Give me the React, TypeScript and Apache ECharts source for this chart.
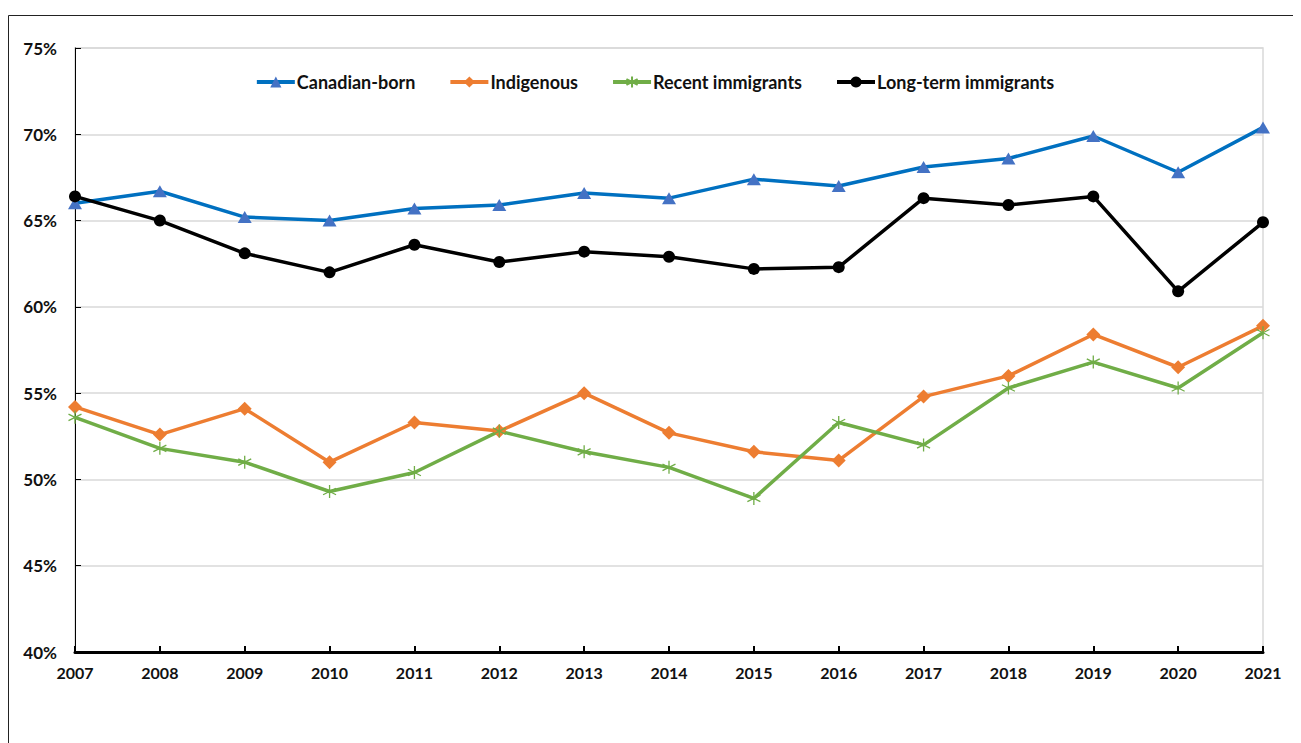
import React, { useEffect, useRef } from "react";
import * as echarts from "echarts";

const years = ["2007","2008","2009","2010","2011","2012","2013","2014","2015","2016","2017","2018","2019","2020","2021"];
const canadianBorn = [66.0,66.7,65.2,65.0,65.7,65.9,66.6,66.3,67.4,67.0,68.1,68.6,69.9,67.8,70.4];
const indigenous = [54.2,52.6,54.1,51.0,53.3,52.8,55.0,52.7,51.6,51.1,54.8,56.0,58.4,56.5,58.9];
const recentImmigrants = [53.6,51.8,51.0,49.3,50.4,52.8,51.6,50.7,48.9,53.3,52.0,55.3,56.8,55.3,58.5];
const longTermImmigrants = [66.4,65.0,63.1,62.0,63.6,62.6,63.2,62.9,62.2,62.3,66.3,65.9,66.4,60.9,64.9];

const FONT = "Lato, 'Liberation Sans', sans-serif";

export default function App() {
  const ref = useRef<HTMLDivElement>(null);
  useEffect(() => {
    if (!ref.current) return;
    const chart = echarts.init(ref.current, null, { renderer: "svg" });
    const asterisk = "path://M6,0L6,12M0.8,3L11.2,9M0.8,9L11.2,3";
    chart.setOption({
      animation: false,
      backgroundColor: "#fff",
      textStyle: { fontFamily: FONT },
      graphic: [
        { type: "line", shape: { x1: 0.5, y1: 7.5, x2: 1400, y2: 7.5 }, style: { stroke: "#222", lineWidth: 1 } },
        { type: "line", shape: { x1: 0.5, y1: 7.5, x2: 0.5, y2: 800 }, style: { stroke: "#222", lineWidth: 1 } },
      ],
      legend: {
        top: 60,
        left: "center",
        itemWidth: 38,
        itemHeight: 14,
        itemGap: 33,
        lineStyle: { width: 4 },
        textStyle: { fontFamily: FONT, fontWeight: "bold", fontSize: 18, color: "#111", padding: [0, 0, 0, -3] },
        data: ["Canadian-born", "Indigenous", "Recent immigrants", "Long-term immigrants"],
      },
      grid: {
        left: 67, top: 40, right: 38, bottom: 91,
        show: true, borderColor: "#d9d9d9", borderWidth: 1.5,
      },
      xAxis: {
        type: "category",
        data: years,
        boundaryGap: false,
        axisLine: { lineStyle: { color: "#000", width: 3 } },
        axisTick: { show: true, inside: true, length: 6, alignWithLabel: true, lineStyle: { color: "#000", width: 2 } },
        axisLabel: { fontFamily: FONT, fontWeight: "bold", fontSize: 16, color: "#111", margin: 12 },
        splitLine: { show: false },
      },
      yAxis: {
        type: "value",
        min: 40, max: 75, interval: 5,
        axisLine: { show: true, lineStyle: { color: "#000", width: 1 } },
        axisTick: { show: true, inside: true, length: 6, lineStyle: { color: "#000", width: 1 } },
        axisLabel: { formatter: "{value}%", fontFamily: FONT, fontWeight: "bold", fontSize: 17, color: "#111", margin: 18 },
        splitLine: { lineStyle: { color: "#d9d9d9", width: 1.5 } },
      },
      series: [
        {
          name: "Canadian-born", type: "line", data: canadianBorn,
          symbol: "triangle", symbolSize: [14, 12], showAllSymbol: true,
          lineStyle: { color: "#0070C0", width: 3.5 },
          itemStyle: { color: "#4472C4" },
        },
        {
          name: "Indigenous", type: "line", data: indigenous,
          symbol: "diamond", symbolSize: [14, 14], showAllSymbol: true,
          lineStyle: { color: "#ED7D31", width: 3.5 },
          itemStyle: { color: "#ED7D31" },
        },
        {
          name: "Recent immigrants", type: "line", data: recentImmigrants,
          symbol: asterisk, symbolSize: [13, 13], showAllSymbol: true,
          lineStyle: { color: "#70AD47", width: 3.5 },
          itemStyle: { color: "#70AD47", borderColor: "#70AD47", borderWidth: 1.3 },
        },
        {
          name: "Long-term immigrants", type: "line", data: longTermImmigrants,
          symbol: "circle", symbolSize: 12, showAllSymbol: true,
          lineStyle: { color: "#000", width: 3.5 },
          itemStyle: { color: "#000" },
        },
      ],
    });
    return () => chart.dispose();
  }, []);
  return <div ref={ref} style={{ width: 1293, height: 735 }} />;
}
